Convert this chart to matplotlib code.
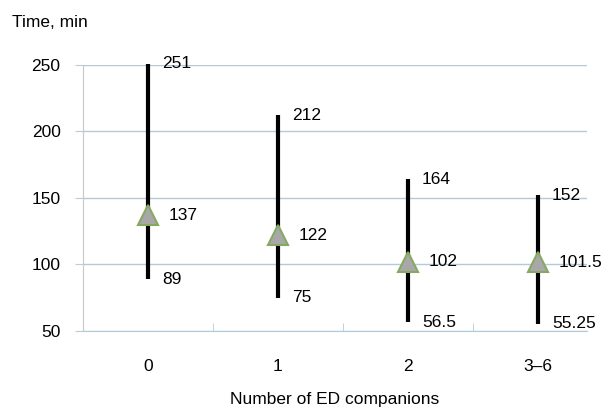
import numpy as np
import matplotlib.pyplot as plt

# Chart data
categories = ['0', '1', '2', '3\u20136']
medians = [137, 122, 102, 101.5]
lows = [89, 75, 56.5, 55.25]
highs = [251, 212, 164, 152]
median_labels = ['137', '122', '102', '101.5']
low_labels = ['89', '75', '56.5', '55.25']
high_labels = ['251', '212', '164', '152']

plt.rcParams['font.family'] = ['Liberation Sans', 'DejaVu Sans']
fs = 12.5
grid_col = '#b3cad8'

fig = plt.figure(figsize=(6.04, 4.11), dpi=100)
ax = fig.add_axes([0.137, 0.195, 0.835, 0.647])

x = np.arange(len(categories))
ax.vlines(x, lows, highs, color='black', linewidth=3, zorder=3, clip_on=False)
ax.plot(x, medians, linestyle='none', marker='^', markersize=14,
        markerfacecolor='#a8a8a8', markeredgecolor='#86a862',
        markeredgewidth=1.5, zorder=4, clip_on=False)

for i in x:
    ax.text(i + 0.11, highs[i], high_labels[i], fontsize=fs, va='center', ha='left')
    ax.text(i + 0.16, medians[i], median_labels[i], fontsize=fs, va='center', ha='left')
    ax.text(i + 0.11, lows[i], low_labels[i], fontsize=fs, va='center', ha='left')

ax.set_xlim(-0.5, 3.38)
ax.set_ylim(50, 250)
ax.set_yticks([50, 100, 150, 200, 250])
ax.yaxis.grid(True, color=grid_col, linewidth=1)
ax.set_axisbelow(True)

ax.set_xticks(x)
ax.set_xticklabels(categories)
ax.set_xticks(x - 0.5, minor=True)
ax.tick_params(axis='x', which='major', length=0, pad=20, labelsize=fs)
ax.tick_params(axis='x', which='minor', length=6, color=grid_col, direction='in')
ax.tick_params(axis='y', length=6, color='#c8c8c8', labelsize=fs, pad=10)

for s in ['top', 'right']:
    ax.spines[s].set_visible(False)
ax.spines['left'].set_color('#c8c8c8')
ax.spines['bottom'].set_color(grid_col)

ax.set_xlabel('Number of ED companions', fontsize=fs, labelpad=13)
fig.text(0.02, 0.945, 'Time, min', fontsize=fs, va='center', ha='left')

fig.savefig('out.png', dpi=100)
